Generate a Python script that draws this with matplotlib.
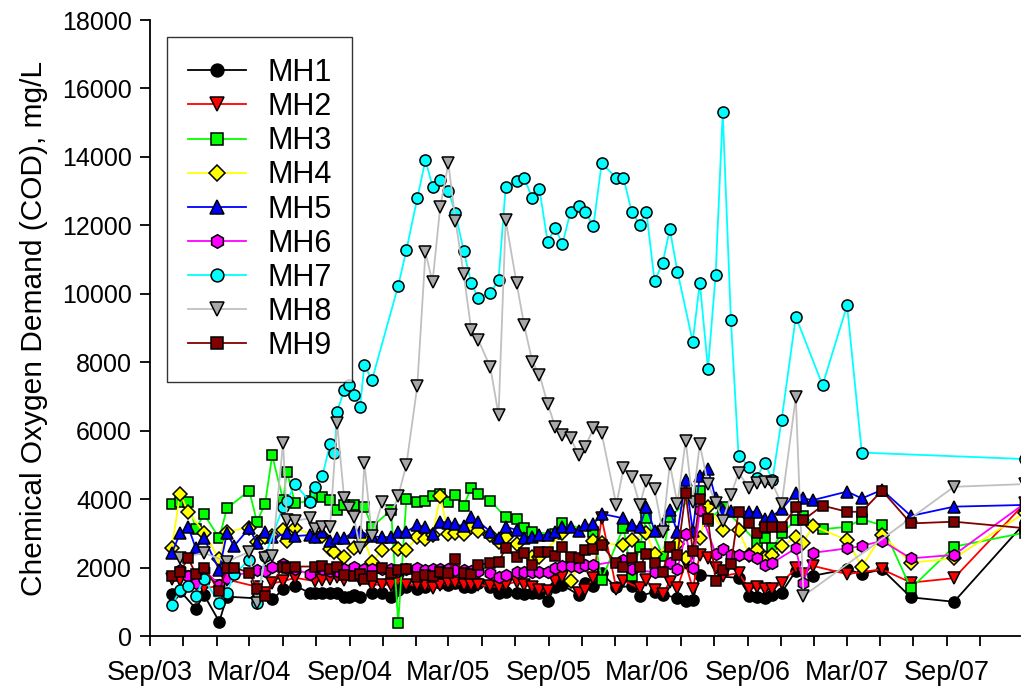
import matplotlib
matplotlib.use("Agg")
import matplotlib.pyplot as plt
import matplotlib.dates as mdates
import numpy as np
from datetime import date

plt.rcParams['font.family'] = ['Liberation Sans', 'DejaVu Sans']

# sampling dates (shared by all manholes)
dates = [
    "2003-10-11", "2003-10-26", "2003-11-10", "2003-11-24", "2003-12-09",
    "2003-12-22", "2004-01-06", "2004-01-20", "2004-02-02", "2004-03-01",
    "2004-03-15", "2004-03-30", "2004-04-12", "2004-05-02", "2004-05-09",
    "2004-05-24", "2004-06-21", "2004-06-30", "2004-07-13", "2004-07-27",
    "2004-08-04", "2004-08-09", "2004-08-22", "2004-08-31", "2004-09-09",
    "2004-09-20", "2004-09-28", "2004-10-12", "2004-10-31", "2004-11-16",
    "2004-11-29", "2004-12-14", "2005-01-03", "2005-01-18", "2005-01-31",
    "2005-02-14", "2005-03-01", "2005-03-14", "2005-03-29", "2005-04-12",
    "2005-04-25", "2005-05-17", "2005-06-01", "2005-06-14", "2005-07-04",
    "2005-07-18", "2005-08-02", "2005-08-15", "2005-08-30", "2005-09-13",
    "2005-09-26", "2005-10-11", "2005-10-26", "2005-11-07", "2005-11-22",
    "2005-12-07", "2005-12-20", "2006-01-03", "2006-01-16", "2006-01-31",
    "2006-02-15", "2006-02-27", "2006-03-14", "2006-03-29", "2006-04-11",
    "2006-04-25", "2006-05-10", "2006-05-23", "2006-06-05", "2006-06-20",
    "2006-07-04", "2006-07-17", "2006-08-01", "2006-08-15", "2006-09-04",
    "2006-09-17", "2006-10-02", "2006-10-16", "2006-11-02", "2006-11-28",
    "2006-12-12", "2006-12-29", "2007-01-16", "2007-03-02", "2007-03-29",
    "2007-05-05", "2007-06-27", "2007-09-14", "2008-01-22",
]

N = None
mh1 = [1230, 1320, N, 800, 1200, N, 420, 1150, N, N,
       1100, N, 1070, 1360, N, 1470, 1250, 1250, 1250, 1250,
       N, 1250, 1130, 1150, 1200, 1130, N, 1250, 1250, 1150,
       1340, 1440, 1360, 1440, N, 1540, 1490, 1540, 1440, 1440,
       1540, 1440, 1270, 1300, 1270, 1230, 1250, 1250, 1030, 1440,
       1490, N, 1200, 1540, 1470, 1830, N, 1420, N, 1460,
       1170, N, 1290, 1200, N, 1120, 1030, 1050, 1780, N,
       N, N, N, 1700, 1180, 1130, 1100, 1200, 1270, 1900,
       N, 1760, N, 1950, 1810, 1950, 1130, 1000, 3310]
mh2 = [1680, 1650, 1730, N, 1400, N, 1460, 1650, N, N,
       1440, 1270, 1540, 1600, N, 1700, N, 1600, 1650, 1660,
       N, 1730, 1640, N, N, 1640, N, 1500, 1500, 1500,
       1620, 1500, 1500, 1450, 1400, 1500, 1540, 1550, 1500, 1480,
       1500, 1450, 1430, 1500, 1590, 1500, 1420, 1340, 1310, 1600,
       1720, N, 1250, 1340, 1690, 3450, N, 1380, 1620, N,
       1390, 1630, 1330, 1220, 1590, 1410, 2120, 1380, 2380, 2280,
       1980, 1750, N, 1840, 1360, 1440, 1360, 1360, 1560, 1980,
       1810, 2050, N, 1810, N, 1950, 1560, 1690, 3880]
mh3 = [3860, 3920, 3920, 3120, 3560, N, 2860, 3730, N, 4250,
       3340, 3860, 5280, 3970, 4800, 3880, 3950, 4090, 4070, 3970,
       N, 3680, 3830, N, 3830, N, 3760, 3190, N, 3680,
       380, 3990, 3910, 3950, 4090, 4150, 3920, 4120, 3810, 4330,
       4150, 3950, N, 3470, 3410, 3170, 3030, N, N, 2980,
       3310, N, N, N, 3030, 1650, N, N, 3170, 1750,
       2600, 3460, N, 2350, 3480, N, N, N, 4230, 3370,
       N, 3760, N, N, N, 2760, 2850, 2560, 3000, 3390,
       3510, N, 3120, 3190, 3410, 3240, 1390, 2610, 3020]
mh4 = [2560, 4160, 3630, N, 3020, N, 2240, 3050, N, 3170,
       2760, 2900, 2930, 3100, 2780, 3150, N, 2930, 2920, 2540,
       2460, N, 2300, N, 2560, N, 2800, 2170, 2510, N,
       2530, 2510, 2890, 2840, 2950, 4090, 2990, 3000, 2970, 3180,
       3070, 2950, 2760, 2880, 2700, N, 2300, 2320, N, N,
       3000, 1620, N, N, 2790, 2710, N, N, 2660, 2800,
       N, 3020, 2400, N, N, 2700, 2270, N, 2860, 3780,
       N, 3110, N, 3090, 2370, 2510, 2270, 2370, 2630, 2880,
       2730, 3220, N, 2800, 2030, 2950, 2140, 2270, 3600]
mh5 = [2420, 3000, 3190, 2560, 2860, N, 1930, 3000, 2630, 3150,
       2710, 3050, 2880, N, 3000, 2920, 2950, 2900, 3050, 2790,
       N, 2850, 2860, N, 3050, 3050, N, 2920, 2880, 2900,
       3050, 3050, 3240, 3180, 2980, 3340, 3310, 3260, 3210, 3470,
       3340, 3050, 2860, 3190, 3100, 2860, 2900, 2950, 2950, 3050,
       3190, 3190, 3080, 3240, 3270, 3570, N, N, 3440, 3230,
       3190, 3780, 3080, 3270, 3680, 3030, 4560, 3080, 4680, 4870,
       4020, 3680, 3660, N, 3630, 3630, 3410, 3510, 3700, 4190,
       4020, 3970, N, 4220, 4020, 4270, 3510, 3780, 3830]
mh6 = [N, 1920, 1750, 1540, 1930, N, 1500, 1700, N, N,
       1930, 1900, 2030, 2090, 1990, 1950, 1800, N, 1950, 1900,
       N, 1900, 1950, N, 2020, N, 1950, 1950, 1950, 1950,
       1900, 1950, 1980, 1930, 1950, 1950, 1950, 1930, 1930, 1900,
       1900, 1830, 1730, 1780, 1880, 1860, 1870, 1880, 1860, 1990,
       2060, 2050, 2010, 2070, 2070, N, N, N, 2220, 1950,
       N, N, 1860, N, 2130, 1950, 2990, 1990, 3680, N,
       2410, 2530, 2380, 2380, 2360, 2270, 2080, 2140, N, 2560,
       1560, 2430, N, 2560, 2630, 2780, 2270, 2370, 3880]
mh7 = [900, 1340, 1470, 1170, 1670, N, 960, 1250, 1810, 2220,
       960, 2340, N, 3780, 3940, 4440, 3910, 4340, 4680, 5600,
       5360, 6550, 7190, 7330, 7030, 6680, 7920, 7480, N, N,
       10230, 11270, 12790, 13910, 13130, 13320, 13010, 12350, 11260, 10310,
       9870, 10030, 10400, 13110, 13300, 13380, 12790, 13050, 11520, 11920,
       11450, 12400, 12570, 12380, 11990, 13810, N, 13390, 13390, 12400,
       12010, 12400, 10370, 10910, 11880, 10650, N, 8600, 10320, 7810,
       10560, 15300, 9240, 5270, 4930, 4610, 5060, 4560, 6320, 9330,
       N, N, 7330, 9660, 5360, N, N, N, 5170]
mh8 = [N, 2270, N, N, 2430, N, N, 2170, N, 2460,
       970, 2270, 2340, 5650, 3390, 3370, 3440, 3120, 3180, 3180,
       N, 6230, 4020, 3730, 3470, 2560, 5060, 2920, 3920, 3540,
       4090, 5000, 7300, 11210, 10340, 12530, 13810, 12140, 10580, 8940,
       8650, 7850, 6460, 12160, 10320, 9080, 8010, 7630, 6790, 6110,
       5870, 5780, 5290, 5530, 6070, 5920, N, 3830, 4900, 4660,
       3830, 4540, 4300, 3050, 5030, 3860, 5710, 3920, 5600, 4440,
       3900, 3360, 4120, 4770, 4320, 4460, 4510, 4460, 3850, 6980,
       1170, N, N, N, N, N, N, 4360, 4440]
mh9 = [1740, 1880, 2270, 1810, 2000, N, 1310, 1980, 2000, 1850,
       1380, 1170, N, 2030, 1990, 2030, N, 2030, 2040, 1950,
       N, 2020, 1780, N, 1750, 1810, 1670, 1750, 1980, 1850,
       1930, 1950, 1730, 1780, 1760, 1880, 1850, 2240, 1850, 1810,
       2080, 2140, 2170, 2560, 2300, 2420, 2070, 2460, 2450, 2330,
       2590, 2320, 2270, 2500, 2530, 2650, N, 2130, 2010, 2270,
       2010, 2410, 2140, 1870, 2590, 2370, 4180, 2480, 3990, 3410,
       1610, 1920, 2090, 3630, 3300, 3020, 3180, 3190, 3180, 3760,
       3390, N, 3810, 3630, 3630, 4250, 3290, 3340, 3150]

names = ["MH1", "MH2", "MH3", "MH4", "MH5", "MH6", "MH7", "MH8", "MH9"]
series = [mh1, mh2, mh3, mh4, mh5, mh6, mh7, mh8, mh9]
line_colors = ["#000000", "#FF0000", "#00FF00", "#FFFF00", "#0000FF",
               "#FF00FF", "#00FFFF", "#C0C0C0", "#800000"]
face_colors = ["#000000", "#FF0000", "#00FF00", "#FFFF00", "#0000FF",
               "#FF00FF", "#00FFFF", "#A8A8A8", "#800000"]
markers = ["o", "v", "s", "D", "^", "h", "o", "v", "s"]
msizes = [8, 9, 7.5, 7, 9, 8.5, 8, 9, 7.5]

x_all = np.array([np.datetime64(d) for d in dates]).astype("datetime64[D]").astype(object)

fig = plt.figure(figsize=(10.22, 6.92), dpi=100)
ax = fig.add_axes([150 / 1022, 56 / 692, 870 / 1022, 616 / 692])

for name, vals, lc, fc, mk, ms in zip(names, series, line_colors, face_colors, markers, msizes):
    xs = [x for x, v in zip(x_all, vals) if v is not None]
    ys = [v for v in vals if v is not None]
    ax.plot(xs, ys, color=lc, lw=1.3, marker=mk, ms=ms, mfc=fc, mec="black",
            mew=1.1, label=name)

ax.set_xlim(date(2003, 9, 1), date(2008, 1, 13))
ax.set_ylim(0, 18000)
ax.set_yticks(np.arange(0, 18001, 2000))

tick_dates = [date(y, m, 1) for y in range(2003, 2008) for m in range(1, 13, 2)]
tick_dates = [d for d in tick_dates if date(2003, 9, 1) <= d <= date(2008, 1, 13)]
ax.set_xticks(mdates.date2num(tick_dates))
labels = [d.strftime("%b/%y") if d.month in (3, 9) else "" for d in tick_dates]
ax.set_xticklabels(labels)

for s in ["top", "right"]:
    ax.spines[s].set_visible(False)
for s in ["left", "bottom"]:
    ax.spines[s].set_linewidth(1.3)
ax.tick_params(direction="out", length=7, width=1.3)
ax.tick_params(axis="y", labelsize=18, pad=6)
ax.tick_params(axis="x", labelsize=19.5, pad=10)

ax.set_ylabel("Chemical Oxygen Demand (COD), mg/L", fontsize=21.5, labelpad=10)

leg = ax.legend(loc="upper left", bbox_to_anchor=(0.0195, 0.972), borderaxespad=0,
                fontsize=22, handlelength=1.9, handletextpad=0.7, markerscale=1.15,
                labelspacing=0.135, borderpad=0.68, fancybox=False, frameon=True)
leg.get_frame().set_edgecolor("black")
leg.get_frame().set_linewidth(1.0)

fig.savefig("out.png", dpi=100)
